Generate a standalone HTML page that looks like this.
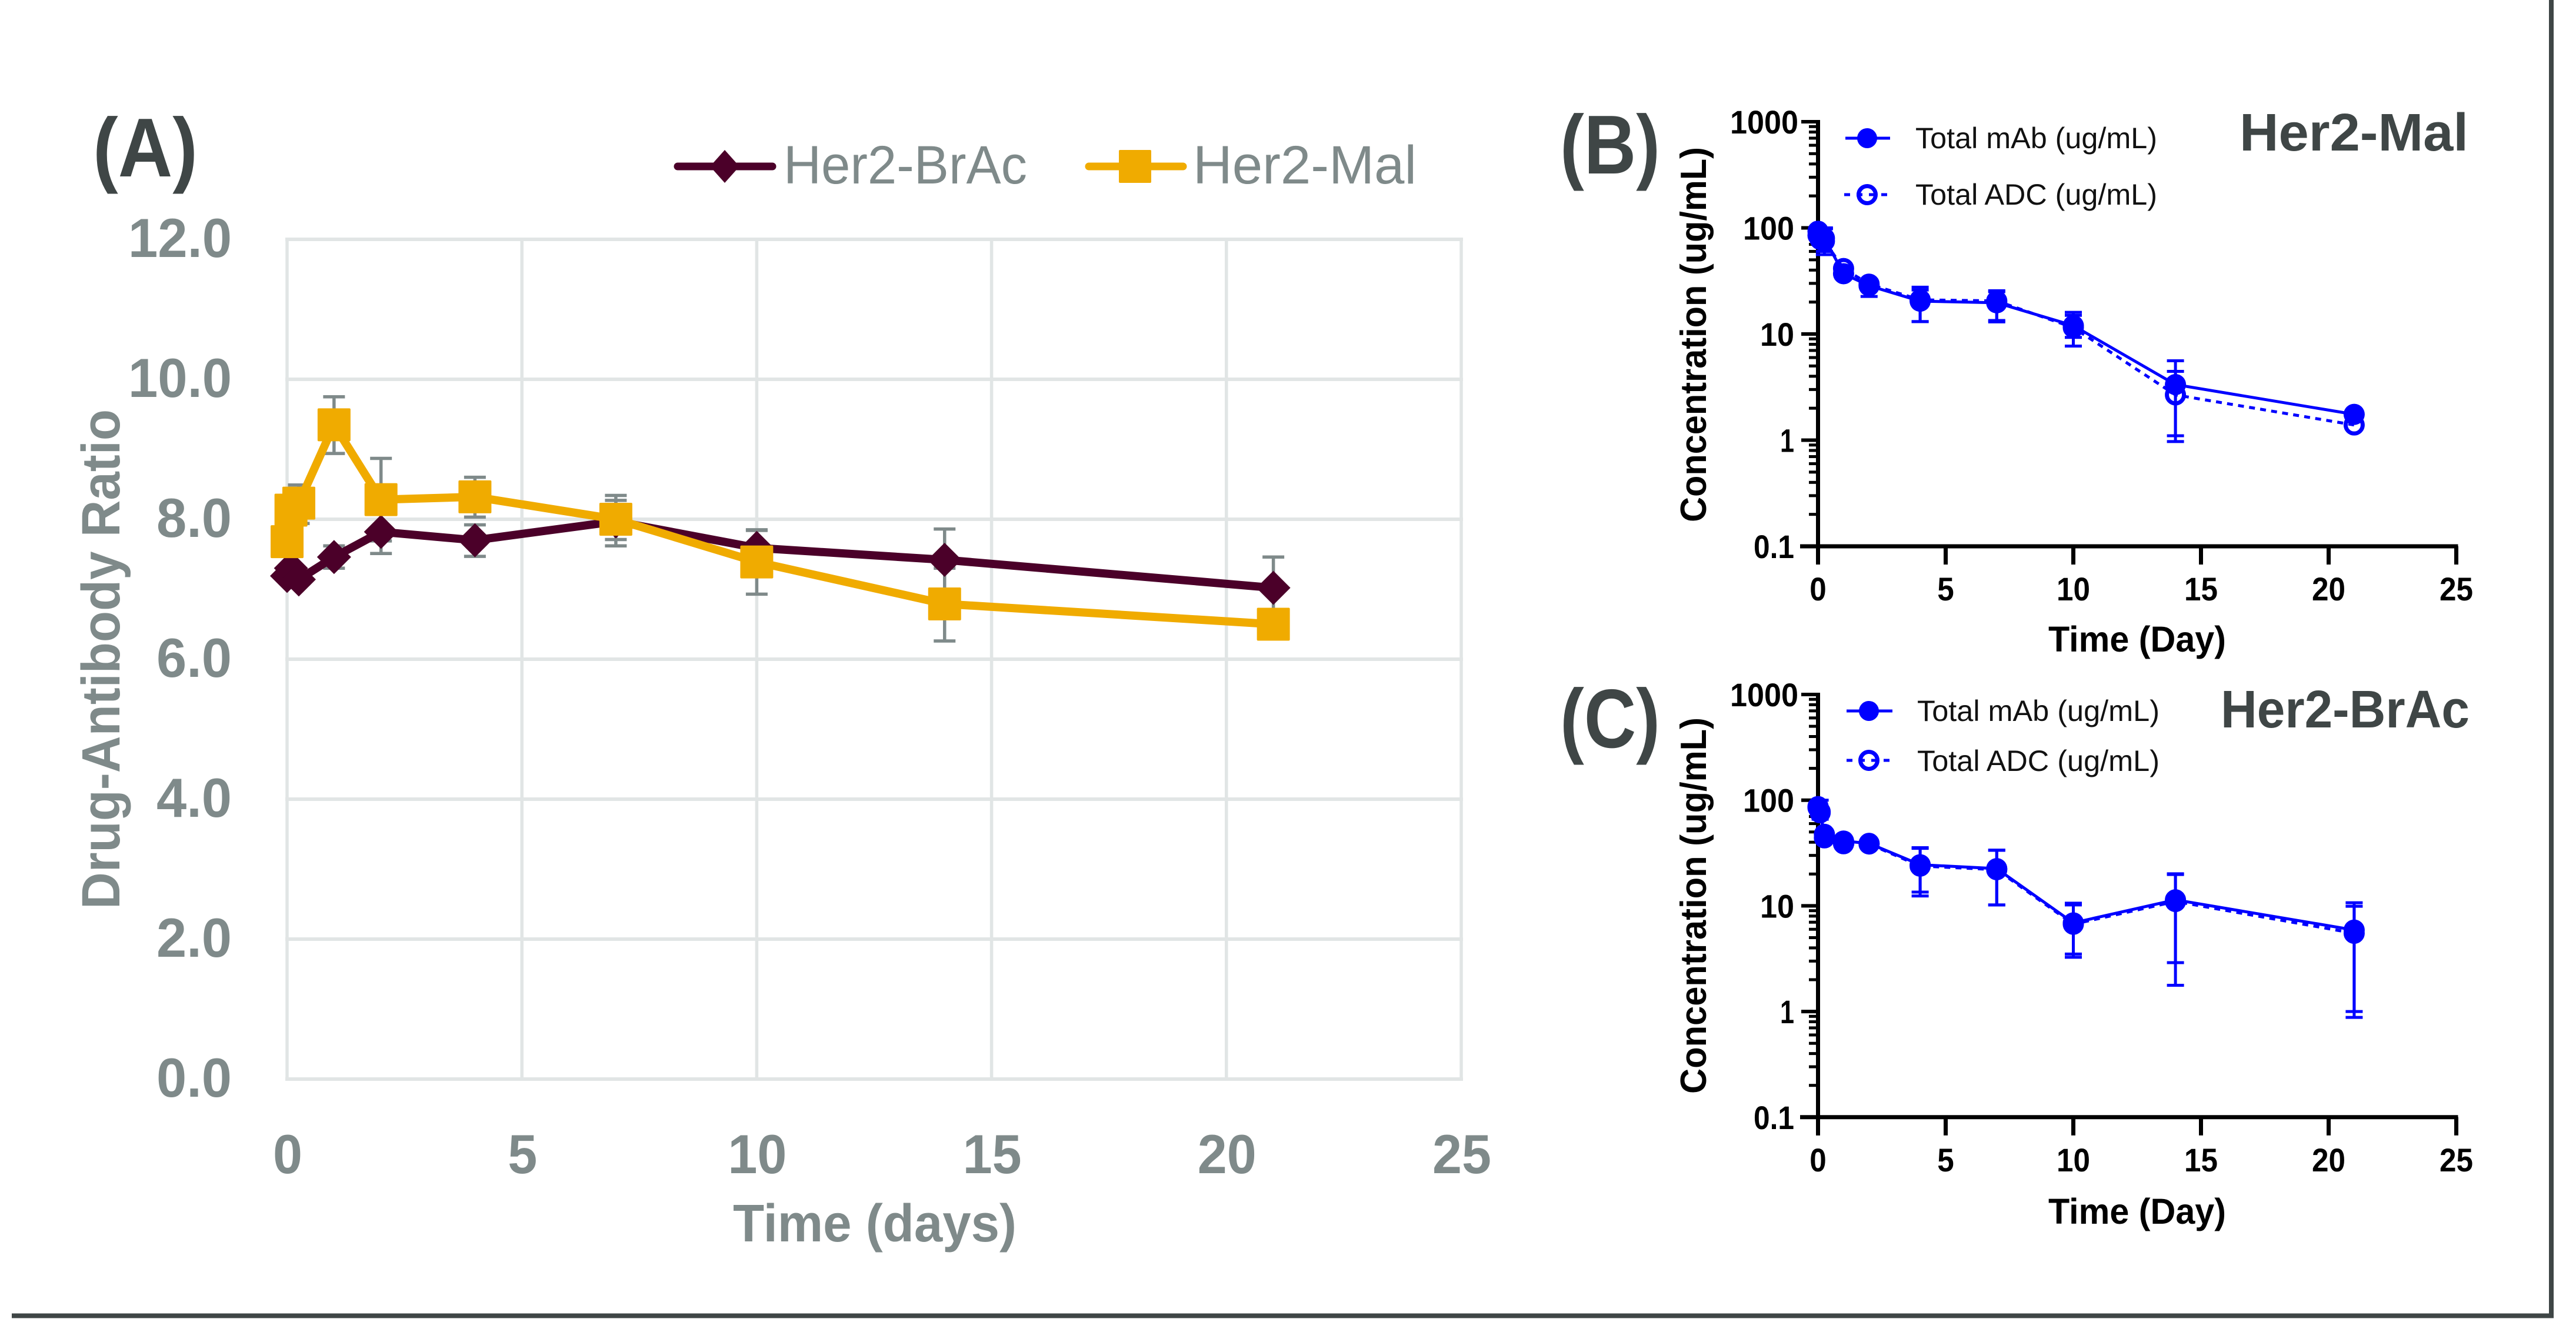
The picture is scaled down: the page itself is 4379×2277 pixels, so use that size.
<!DOCTYPE html>
<html lang="en">
<head>
<meta charset="utf-8">
<title>Drug-Antibody Ratio and Concentration over Time</title>
<style>
html,body{margin:0;padding:0;background:#fff;width:4379px;height:2277px;overflow:hidden}
svg{display:block}
text{font-family:"Liberation Sans",sans-serif}
.gray{fill:#7f8a8a}
.dark{fill:#3f4646}
</style>
</head>
<body>
<svg id="figure" xmlns="http://www.w3.org/2000/svg" width="4379" height="2277" viewBox="0 0 4379 2277">
  <rect width="4379" height="2277" fill="#fff"/>
  <path d="M20 2237.5H4337V0" fill="none" stroke="#3f4646" stroke-width="8"/>

  <text class="dark" x="158" y="300" font-size="142" font-weight="700" textLength="178" lengthAdjust="spacingAndGlyphs">(A)</text>
  <text class="dark" x="2652" y="295" font-size="142" font-weight="700" textLength="170" lengthAdjust="spacingAndGlyphs">(B)</text>
  <text class="dark" x="2652" y="1271" font-size="142" font-weight="700" textLength="170" lengthAdjust="spacingAndGlyphs">(C)</text>

  <g id="panelA"></g>
  <text class="gray" x="1246" y="2111" font-size="90" font-weight="700" textLength="482" lengthAdjust="spacingAndGlyphs">Time (days)</text>
  <text class="gray" transform="translate(203 1546) rotate(-90)" font-size="92" font-weight="700" textLength="850" lengthAdjust="spacingAndGlyphs">Drug-Antibody Ratio</text>

  <g>
    <g>
      <line x1="1152" x2="1313" y1="283" y2="283" stroke="#4b0029" stroke-width="13" stroke-linecap="round"/>
      <polygon points="1232,255 1257,283 1232,311 1207,283" fill="#4b0029"/>
      <text class="gray" x="1332" y="312" font-size="92" textLength="414" lengthAdjust="spacingAndGlyphs">Her2-BrAc</text>
    </g>
    <g>
      <line x1="1851" x2="2011" y1="283" y2="283" stroke="#f0ab00" stroke-width="13" stroke-linecap="round"/>
      <rect x="1902" y="255" width="55" height="56" rx="2" fill="#f0ab00"/>
      <text class="gray" x="2028" y="312" font-size="92" textLength="380" lengthAdjust="spacingAndGlyphs">Her2-Mal</text>
    </g>
  </g>

  <g id="panelB"></g>
  <g id="panelC"></g>

  <text class="dark" x="3807" y="256" font-size="90" font-weight="700" textLength="389" lengthAdjust="spacingAndGlyphs">Her2-Mal</text>
  <text class="dark" x="3775" y="1237" font-size="90" font-weight="700" textLength="423" lengthAdjust="spacingAndGlyphs">Her2-BrAc</text>

  <text fill="#000" x="3482" y="1108" font-size="61" font-weight="700" textLength="302" lengthAdjust="spacingAndGlyphs">Time (Day)</text>
  <text fill="#000" x="3482" y="2081" font-size="61" font-weight="700" textLength="302" lengthAdjust="spacingAndGlyphs">Time (Day)</text>
  <text fill="#000" transform="translate(2900 888) rotate(-90)" font-size="62" font-weight="700" textLength="638" lengthAdjust="spacingAndGlyphs">Concentration (ug/mL)</text>
  <text fill="#000" transform="translate(2900 1860) rotate(-90)" font-size="62" font-weight="700" textLength="640" lengthAdjust="spacingAndGlyphs">Concentration (ug/mL)</text>

  <g>
    <g>
      <line x1="3137" x2="3213" y1="235" y2="235" stroke="#0000ff" stroke-width="5"/>
      <circle cx="3174" cy="235" r="17" fill="#0000ff"/>
      <text fill="#111" x="3256" y="252" font-size="50" textLength="411" lengthAdjust="spacingAndGlyphs">Total mAb (ug/mL)</text>
    </g>
    <g>
      <line x1="3135" x2="3213" y1="331" y2="331" stroke="#0000ff" stroke-width="5" stroke-dasharray="10 11"/>
      <circle cx="3174" cy="331" r="14.5" fill="none" stroke="#0000ff" stroke-width="7"/>
      <text fill="#111" x="3256" y="348" font-size="50" textLength="411" lengthAdjust="spacingAndGlyphs">Total ADC (ug/mL)</text>
    </g>
  </g>
  <g>
    <g>
      <line x1="3139" x2="3217" y1="1209" y2="1209" stroke="#0000ff" stroke-width="5"/>
      <circle cx="3177" cy="1209" r="17" fill="#0000ff"/>
      <text fill="#111" x="3259" y="1226" font-size="50" textLength="412" lengthAdjust="spacingAndGlyphs">Total mAb (ug/mL)</text>
    </g>
    <g>
      <line x1="3139" x2="3217" y1="1293" y2="1293" stroke="#0000ff" stroke-width="5" stroke-dasharray="10 11"/>
      <circle cx="3177" cy="1293" r="14.5" fill="none" stroke="#0000ff" stroke-width="7"/>
      <text fill="#111" x="3259" y="1311" font-size="50" textLength="412" lengthAdjust="spacingAndGlyphs">Total ADC (ug/mL)</text>
    </g>
  </g>
</svg>
<script>
// ---- Shared categories ----
const times = [0, 0.083, 0.25, 1, 2, 4, 7, 10, 14, 21];

// ---- Panel A data ----
const aXTicks = [0, 5, 10, 15, 20, 25];
const aYTicks = [0, 2, 4, 6, 8, 10, 12];
const aYTickLabels = ['0.0', '2.0', '4.0', '6.0', '8.0', '10.0', '12.0'];
const bracValues = [7.19, 7.3, 7.14, 7.46, 7.82, 7.7, 7.97, 7.59, 7.42, 7.02];
const bracHigh = [null, null, null, 7.62, 8.13, 7.92, 8.27, 7.84, 7.86, 7.46];
const bracLow = [null, null, null, 7.3, 7.51, 7.47, 7.62, 7.3, 6.98, 6.6];
const malValues = [7.68, 8.13, 8.23, 9.35, 8.28, 8.32, 8.0, 7.39, 6.79, 6.5];
const malHigh = [null, null, 8.49, 9.75, 8.87, 8.6, 8.34, 7.85, 7.3, null];
const malLow = [null, null, 7.94, 8.94, 7.69, 8.03, 7.71, 6.93, 6.26, null];

// ---- Panels B and C shared axis data ----
const logXTicks = [0, 5, 10, 15, 20, 25];
const logDecades = [0.1, 1, 10, 100, 1000];
const logDecadeLabels = ['0.1', '1', '10', '100', '1000'];
const logMinorMultipliers = [2, 3, 4, 5, 6, 7, 8, 9];

// ---- Panel B data (Her2-Mal) ----
const bMabValues = [93, 85, 80, 37, 28.5, 20.4, 19.7, 12, 3.34, 1.75];
const bMabHigh = [null, null, 100, null, null, 27.6, 25.6, 16, 5.6, null];
const bMabLow = [null, null, 60, null, 22.6, 13.1, 13.4, 9.3, 1.1, null];
const bAdcValues = [85, 78, 75, 41.4, 29.5, 21, 20.5, 11.5, 2.67, 1.39];
const bAdcHigh = [null, null, 98, null, null, 26, 25, 15, 4.45, null];
const bAdcLow = [null, null, 56, null, null, 13.1, 13, 7.7, 0.97, null];

// ---- Panel C data (Her2-BrAc) ----
const cMabValues = [87, 78, 47.5, 41, 39, 24.5, 22.5, 6.9, 11.4, 5.9];
const cMabHigh = [null, 100, null, null, null, 35.5, 33.7, 10.6, 20.1, 10.7];
const cMabLow = [null, 66, null, null, null, 13.5, 10.2, 3.5, 1.77, 0.88];
const cAdcValues = [85, 76, 44, 38.7, 38.5, 23.8, 22, 6.7, 11, 5.5];
const cAdcHigh = [null, null, null, null, null, 35, 33.5, 10.2, 19.8, 9.9];
const cAdcLow = [null, null, null, null, null, 12.4, 10.2, 3.26, 2.9, 1];

const NS = 'http://www.w3.org/2000/svg';
function mk(parent, tag, attrs, txt) {
  const el = document.createElementNS(NS, tag);
  for (const k in attrs) el.setAttribute(k, attrs[k]);
  if (txt !== undefined) el.textContent = txt;
  parent.appendChild(el);
  return el;
}
function labelWidth(s, digit, dot) {
  let w = 0;
  for (const c of s) w += c === '.' ? dot : digit;
  return w;
}

// ---- Panel A drawing ----
(function () {
  const g = document.getElementById('panelA');
  const x = t => 488 + t * 79.84;
  const y = v => 1835 - v * 119;
  const GRID = '#e1e5e5';
  const GRAY = '#7f8a8a';
  aYTicks.forEach((v, i) => {
    const l = mk(g, 'line', { x1: x(0) - 3, x2: x(25) + 3, y1: y(v), y2: y(v), stroke: GRID, 'stroke-width': 6 });
    
    
    const t = mk(g, 'text', { x: 394, y: y(v) + 30, 'text-anchor': 'end', 'font-size': 94, 'font-weight': 700, fill: GRAY, textLength: labelWidth(aYTickLabels[i], 48, 32), lengthAdjust: 'spacingAndGlyphs' }, aYTickLabels[i]);
    
    
  });
  aXTicks.forEach(v => {
    const l = mk(g, 'line', { x1: x(v), x2: x(v), y1: y(12) - 3, y2: y(0) + 3, stroke: GRID, 'stroke-width': 5.5 });
    
    
    const s = String(v);
    const t = mk(g, 'text', { x: x(v) + 1, y: 1995, 'text-anchor': 'middle', 'font-size': 94, 'font-weight': 700, fill: GRAY, textLength: labelWidth(s, 50, 0), lengthAdjust: 'spacingAndGlyphs' }, s);
    
    
  });
  function errors(values, hi, lo, nm) {
    values.forEach((_, i) => {
      [hi[i], lo[i]].forEach((e, j) => {
        if (e === null) return;
        const stem = mk(g, 'line', { x1: x(times[i]), x2: x(times[i]), y1: y(values[i]), y2: y(e), stroke: GRAY, 'stroke-width': 5.5 });
        
        
        const cap = mk(g, 'line', { x1: x(times[i]) - 18.5, x2: x(times[i]) + 18.5, y1: y(e), y2: y(e), stroke: GRAY, 'stroke-width': 5.5 });
        
        
      });
    });
  }
  errors(bracValues, bracHigh, bracLow, 'brac');
  errors(malValues, malHigh, malLow, 'mal');

  const bracLine = mk(g, 'polyline', { points: bracValues.map((v, i) => x(times[i]) + ',' + y(v)).join(' '), fill: 'none', stroke: '#4b0029', 'stroke-width': 14, 'stroke-linejoin': 'round' });
  
  
  bracValues.forEach((v, i) => {
    const cx = x(times[i]), cy = y(v), r = 29;
    const d = mk(g, 'polygon', { points: [cx, cy - r, cx + r, cy, cx, cy + r, cx - r, cy].join(','), fill: '#4b0029' });
    
    
  });
  const malLine = mk(g, 'polyline', { points: malValues.map((v, i) => x(times[i]) + ',' + y(v)).join(' '), fill: 'none', stroke: '#f0ab00', 'stroke-width': 14, 'stroke-linejoin': 'round' });
  
  
  malValues.forEach((v, i) => {
    const s = mk(g, 'rect', { x: x(times[i]) - 28, y: y(v) - 28, width: 56, height: 56, rx: 2, fill: '#f0ab00' });
    
    
  });
})();

// ---- Panels B and C drawing ----
function drawLogPanel(id, prefix, yThousand, decadeHeight, mabV, mabH, mabL, adcV, adcH, adcL) {
  const g = document.getElementById(id);
  const x = t => 3090.5 + t * 43.4;
  const y = v => yThousand + (3 - Math.log10(v)) * decadeHeight;
  const BLUE = '#0000ff';
  const BLACK = '#000';
  const yBase = y(0.1);

  logDecades.forEach((d, i) => {
    const tick = mk(g, 'line', { x1: 3062, x2: x(0), y1: y(d), y2: y(d), stroke: BLACK, 'stroke-width': 6 });
    
    
    const s = logDecadeLabels[i];
    const label = mk(g, 'text', { x: d === 1000 ? 3057 : 3050, y: y(d) + 20, 'text-anchor': 'end', 'font-size': 56, 'font-weight': 700, fill: BLACK, textLength: s === '1' ? 24 : labelWidth(s, 29, 11), lengthAdjust: 'spacingAndGlyphs' }, s);
    
    
    if (d < 1000) {
      logMinorMultipliers.forEach(m => {
        const minor = mk(g, 'line', { x1: 3075, x2: x(0), y1: y(d * m), y2: y(d * m), stroke: BLACK, 'stroke-width': 5 });
        
        
      });
    }
  });
  const yAxis = mk(g, 'line', { x1: x(0), x2: x(0), y1: y(1000) - 3, y2: yBase + 31, stroke: BLACK, 'stroke-width': 7 });
  
  
  const xAxis = mk(g, 'line', { x1: 3060, x2: x(25) + 3, y1: yBase, y2: yBase, stroke: BLACK, 'stroke-width': 7 });
  
  
  logXTicks.forEach(v => {
    const tick = mk(g, 'line', { x1: x(v), x2: x(v), y1: yBase, y2: yBase + 31, stroke: BLACK, 'stroke-width': 7 });
    
    
    const s = String(v);
    const label = mk(g, 'text', { x: x(v), y: yBase + 92, 'text-anchor': 'middle', 'font-size': 56, 'font-weight': 700, fill: BLACK, textLength: labelWidth(s, 28.5, 0), lengthAdjust: 'spacingAndGlyphs' }, s);
    
    
  });

  function errors(values, hi, lo, nm) {
    values.forEach((_, i) => {
      [hi[i], lo[i]].forEach(e => {
        if (e === null) return;
        const stem = mk(g, 'line', { x1: x(times[i]), x2: x(times[i]), y1: y(values[i]), y2: y(e), stroke: BLUE, 'stroke-width': 5 });
        
        
        const cap = mk(g, 'line', { x1: x(times[i]) - 14.5, x2: x(times[i]) + 14.5, y1: y(e), y2: y(e), stroke: BLUE, 'stroke-width': 5 });
        
        
      });
    });
  }
  errors(adcV, adcH, adcL, 'adc');
  errors(mabV, mabH, mabL, 'mab');

  const adcLine = mk(g, 'polyline', { points: adcV.map((v, i) => x(times[i]) + ',' + y(v)).join(' '), fill: 'none', stroke: BLUE, 'stroke-width': 5, 'stroke-dasharray': '10 9' });
  
  
  adcV.forEach((v, i) => {
    const c = mk(g, 'circle', { cx: x(times[i]), cy: y(v), r: 14.5, fill: 'none', stroke: BLUE, 'stroke-width': 7 });
    
    
  });
  const mabLine = mk(g, 'polyline', { points: mabV.map((v, i) => x(times[i]) + ',' + y(v)).join(' '), fill: 'none', stroke: BLUE, 'stroke-width': 5 });
  
  
  mabV.forEach((v, i) => {
    const c = mk(g, 'circle', { cx: x(times[i]), cy: y(v), r: 18, fill: BLUE });
    
    
  });
}
drawLogPanel('panelB', 'b', 207, 180.5, bMabValues, bMabHigh, bMabLow, bAdcValues, bAdcHigh, bAdcLow);
drawLogPanel('panelC', 'c', 1181, 179.7, cMabValues, cMabHigh, cMabLow, cAdcValues, cAdcHigh, cAdcLow);
</script>
</body>
</html>
